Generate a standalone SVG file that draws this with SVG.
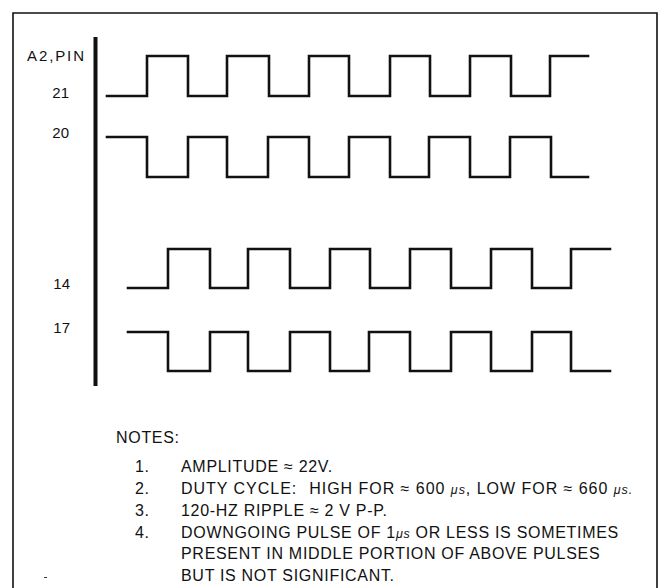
<svg xmlns="http://www.w3.org/2000/svg" width="663" height="588" viewBox="0 0 663 588">
<style>
.wave{fill:none;stroke:#111;stroke-width:2.6;stroke-linejoin:miter;stroke-linecap:square}
.lbl{font-family:"Liberation Sans",Arial,sans-serif;font-size:15px;fill:#111}
.note{font-family:"Liberation Sans",Arial,sans-serif;font-size:16px;letter-spacing:0.7px;fill:#111}
.mu{font-size:12.5px;font-style:italic}
</style>
<rect width="663" height="588" fill="#fff"/>
<g id="frame">
<path d="M13,588 V13 H657 V588" fill="none" stroke="#111" stroke-width="1.6"/>
<line x1="95.5" y1="37" x2="95.5" y2="386" stroke="#111" stroke-width="4"/>
<line x1="44" y1="577.5" x2="47" y2="577.5" stroke="#333" stroke-width="1"/>
</g>
<g id="labels">
<text class="lbl" x="27" y="61" font-size="16" textLength="57" lengthAdjust="spacing">A2,PIN</text>
<text class="lbl" x="69" y="98" text-anchor="end">21</text>
<text class="lbl" x="69" y="138" text-anchor="end">20</text>
<text class="lbl" x="70" y="289" text-anchor="end">14</text>
<text class="lbl" x="70" y="333" text-anchor="end">17</text>
</g>
<g id="connectors">
<path id="pin21" class="wave" d="M107,96 H147 V56 H188 V96 H227 V56 H269 V96 H309 V56 H349 V96 H390 V56 H430 V96 H470 V56 H511 V96 H550 V56 H588"/>
<path id="pin20" class="wave" d="M107,137 H147 V177 H188 V137 H227 V177 H268 V137 H309 V177 H349 V137 H390 V177 H429 V137 H470 V177 H510 V137 H551 V177 H588"/>
<path id="pin14" class="wave" d="M128,288 H168 V249 H210 V288 H248 V249 H290 V288 H330 V249 H370 V288 H410 V249 H451 V288 H491 V249 H532 V288 H571 V249 H610"/>
<path id="pin17" class="wave" d="M128,332 H168 V371 H210 V332 H248 V371 H290 V332 H330 V371 H369 V332 H410 V371 H451 V332 H491 V371 H532 V332 H571 V371 H610"/>
</g>
<g id="notes">
<text class="note" x="116" y="443">NOTES:</text>
<text class="note" x="135" y="472">1.</text>
<text class="note" x="135" y="494">2.</text>
<text class="note" x="135" y="516">3.</text>
<text class="note" x="135" y="538">4.</text>
<text class="note" x="181" y="472">AMPLITUDE ≈ 22V.</text>
<text class="note" x="181" y="494" textLength="452" lengthAdjust="spacing">DUTY CYCLE:<tspan dx="12">HIGH FOR ≈ 600 </tspan><tspan class="mu">μs</tspan>, LOW FOR ≈ 660 <tspan class="mu">μs.</tspan></text>
<text class="note" x="181" y="516">120-HZ RIPPLE ≈ 2 V P-P.</text>
<text class="note" x="181" y="538">DOWNGOING PULSE OF 1<tspan class="mu">μs</tspan> OR LESS IS SOMETIMES</text>
<text class="note" x="181" y="559">PRESENT IN MIDDLE PORTION OF ABOVE PULSES</text>
<text class="note" x="181" y="581">BUT IS NOT SIGNIFICANT.</text>
</g>
</svg>
